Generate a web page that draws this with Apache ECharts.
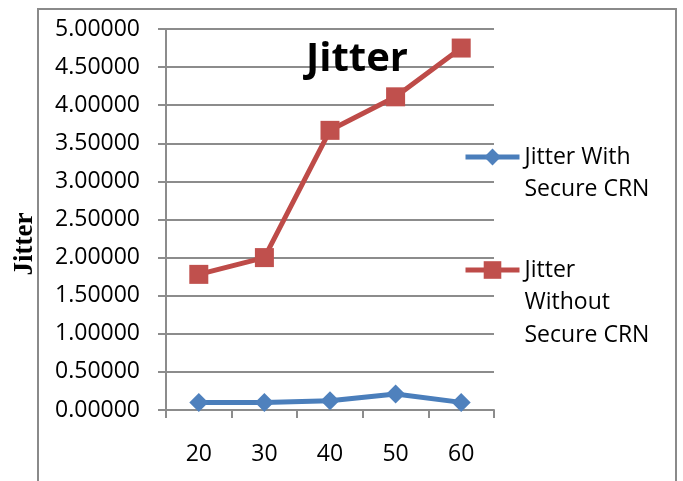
<!DOCTYPE html>
<html>
<head>
<meta charset="utf-8">
<script src="https://cdn.jsdelivr.net/npm/echarts@6/dist/echarts.min.js"></script>
<style>
  html, body { margin: 0; padding: 0; background: #fff; }
  #chart { width: 683px; height: 481px; }
</style>
</head>
<body>
<div id="chart"></div>
<script>
// Node counts along the x axis
const categories = ['20', '30', '40', '50', '60'];
// Jitter measured with and without the secure CRN scheme
const jitterWithSecure = [0.10, 0.10, 0.12, 0.21, 0.10];
const jitterWithoutSecure = [1.78, 2.00, 3.67, 4.11, 4.75];
const seriesNames = ['Jitter With Secure CRN', 'Jitter Without Secure CRN'];
const legendLines = [['Jitter With', 'Secure CRN'], ['Jitter', 'Without', 'Secure CRN']];

const blue = '#4A7EBB';
const red = '#BE4B48';
const grey = '#8c8c8c';
const font = 'Open Sans';
const lineH = 32.5;

const chart = echarts.init(document.getElementById('chart'), null, { renderer: 'canvas' });

// Each legend entry keeps its first text line level with the icon:
// blank lines are prepended so the block's middle line is the first label line.
function legendFor(i, iconCenterY, itemH) {
  const lines = legendLines[i];
  const blanks = lines.length - 1;
  const total = lines.length + blanks;
  return {
    data: [seriesNames[i]],
    orient: 'vertical',
    left: 463,
    top: iconCenterY - (total * lineH) / 2,
    padding: 0,
    itemWidth: 54,
    itemHeight: itemH,
    selectedMode: false,
    lineStyle: { width: 5 },
    formatter: () => '\n'.repeat(blanks) + lines.join('\n'),
    textStyle: {
      fontFamily: font,
      fontSize: 23,
      color: '#000',
      lineHeight: lineH
    }
  };
}

chart.setOption({
  backgroundColor: '#fff',
  animation: false,
  title: {
    text: 'Jitter',
    left: 306,
    top: 40,
    padding: 0,
    textStyle: { fontFamily: font, fontSize: 40, fontWeight: 'bold', color: '#000' }
  },
  legend: [legendFor(0, 157, 21), legendFor(1, 270, 22)],
  grid: { left: 166, right: 189, top: 29, bottom: 71, containLabel: false },
  xAxis: {
    type: 'category',
    data: categories,
    boundaryGap: true,
    axisLine: { lineStyle: { color: grey, width: 2 } },
    axisTick: { show: true, length: 8, lineStyle: { color: grey, width: 2 } },
    axisLabel: { fontFamily: font, fontSize: 23, color: '#000', margin: 33 },
    splitLine: { show: false }
  },
  yAxis: {
    type: 'value',
    min: 0,
    max: 5,
    interval: 0.5,
    axisLine: { show: true, lineStyle: { color: grey, width: 2 } },
    axisTick: { show: true, length: 8, lineStyle: { color: grey, width: 2 } },
    axisLabel: {
      fontFamily: font, fontSize: 23, color: '#000', margin: 26,
      formatter: v => v.toFixed(5)
    },
    splitLine: { show: true, lineStyle: { color: grey, width: 2 } }
  },
  graphic: [
    {
      type: 'rect',
      shape: { x: 38, y: 9, width: 638, height: 500 },
      style: { fill: 'none', stroke: '#8a8a8a', lineWidth: 2 },
      silent: true,
      z: -1
    },
    {
      // y-axis title
      type: 'text',
      x: 25,
      y: 244,
      rotation: Math.PI / 2,
      style: {
        text: 'Jitter',
        font: 'bold 27px "Liberation Serif"',
        fill: '#000',
        textAlign: 'center',
        textVerticalAlign: 'middle'
      },
      silent: true
    }
  ],
  series: [
    {
      name: seriesNames[0],
      type: 'line',
      data: jitterWithSecure,
      symbol: 'diamond',
      symbolSize: 19,
      lineStyle: { color: blue, width: 5 },
      itemStyle: { color: '#4F81BD' }
    },
    {
      name: seriesNames[1],
      type: 'line',
      data: jitterWithoutSecure,
      symbol: 'rect',
      symbolSize: 19,
      lineStyle: { color: red, width: 5 },
      itemStyle: { color: '#C0504D' }
    }
  ]
});
</script>
</body>
</html>
